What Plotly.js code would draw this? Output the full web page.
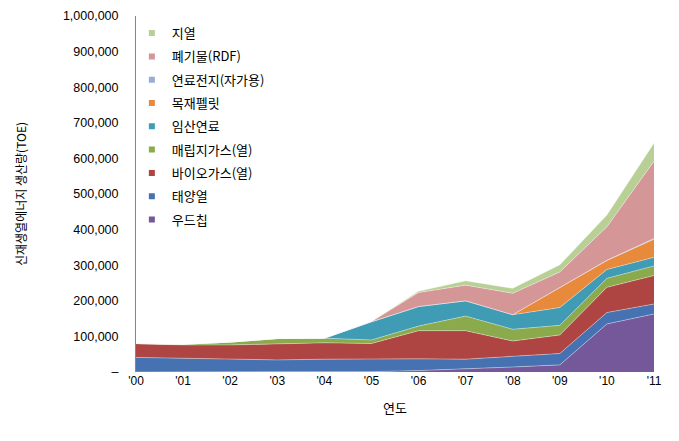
<!DOCTYPE html>
<html>
<head>
<meta charset="utf-8">
<script src="https://cdn.plot.ly/plotly-3.0.1.min.js"></script>
<style>
  html, body { margin: 0; padding: 0; background: #fff; }
  #chart { width: 679px; height: 441px; }
</style>
</head>
<body>
<div id="chart"></div>
<script>
// 연도 (x축)
const years = ["'00", "'01", "'02", "'03", "'04", "'05", "'06", "'07", "'08", "'09", "'10", "'11"];

// 열원별 생산량 (TOE), 그림에서 읽은 값
const woodChip   = [0, 0, 0, 0, 0, 1000, 4000, 8000, 14000, 20000, 135000, 163000];
const solarHeat  = [41000, 38000, 36000, 34000, 36000, 36000, 33000, 28000, 29000, 32000, 32000, 28000];
const biogas     = [39000, 38000, 40000, 46000, 46000, 43000, 79000, 80000, 44000, 52000, 71000, 80000];
const landfill   = [0, 2000, 8000, 14000, 13000, 10000, 13000, 41000, 33000, 27000, 25000, 27000];
const forestFuel = [0, 0, 0, 0, 0, 51000, 55000, 43000, 41000, 50000, 25000, 24000];
const woodPellet = [0, 0, 0, 0, 0, 0, 0, 0, 0, 57000, 25000, 51000];
const fuelCell   = [0, 0, 0, 0, 0, 0, 0, 0, 0, 0, 1000, 2000];
const waste      = [0, 0, 0, 0, 0, 1000, 39000, 44000, 60000, 43000, 94000, 217000];
const geothermal = [0, 0, 0, 0, 0, 0, 4000, 12000, 14000, 20000, 33000, 51000];

const yTickVals = [0, 100000, 200000, 300000, 400000, 500000, 600000, 700000, 800000, 900000, 1000000];
const yTickText = ['–', '100,000', '200,000', '300,000', '400,000', '500,000', '600,000', '700,000', '800,000', '900,000', '1,000,000'];

// 아래에서 위로 쌓는 순서
const series = [
    { name: '우드칩', values: woodChip, color: '#74589a' },
    { name: '태양열', values: solarHeat, color: '#4672b1' },
    { name: '바이오가스(열)', values: biogas, color: '#ae4543' },
    { name: '매립지가스(열)', values: landfill, color: '#8baa4b' },
    { name: '임산연료', values: forestFuel, color: '#3f9cb4' },
    { name: '목재펠릿', values: woodPellet, color: '#e88a3c' },
    { name: '연료전지(자가용)', values: fuelCell, color: '#97aed3' },
    { name: '폐기물(RDF)', values: waste, color: '#d49696' },
    { name: '지열', values: geothermal, color: '#b8d095' }
];

const traces = series.map(s => ({
    x: years,
    y: s.values,
    type: 'scatter',
    mode: 'lines',
    stackgroup: 'heat',
    fillcolor: s.color,
    line: { color: 'rgba(255,255,255,0.45)', width: 0.8 },
    showlegend: false,
    name: s.name
}));

// 범례는 작은 네모 표식으로 (위에서 아래로 지열 → 우드칩)
const legendTraces = series.slice().reverse().map(s => ({
    x: [null],
    y: [null],
    type: 'scatter',
    mode: 'markers',
    marker: { symbol: 'square', size: 6, color: s.color },
    name: s.name,
    legendgroup: s.name,
    showlegend: true
}));

const layout = {
    width: 679,
    height: 441,
    margin: { l: 136, r: 25, t: 16, b: 69 },
    paper_bgcolor: '#fff',
    plot_bgcolor: '#fff',
    font: { family: '"Noto Sans CJK KR", "Liberation Sans", sans-serif', size: 12, color: '#000' },
    showlegend: true,
    legend: {
        x: -0.008,
        xanchor: 'left',
        y: 0.994,
        yanchor: 'top',
        traceorder: 'grouped',
        tracegroupgap: 3.4,
        itemwidth: 30,
        font: { size: 13 },
        bgcolor: 'rgba(0,0,0,0)'
    },
    xaxis: {
        type: 'category',
        range: [0, 11],
        showgrid: false,
        zeroline: false,
        showline: false,
        ticks: '',
        tickfont: { family: '"Liberation Sans", sans-serif', size: 12 },
        title: { text: '연도', font: { size: 13 }, standoff: 16 }
    },
    yaxis: {
        range: [0, 1000000],
        tickvals: yTickVals,
        ticktext: yTickText,
        showgrid: false,
        zeroline: false,
        showline: true,
        linecolor: '#868686',
        linewidth: 1,
        ticks: '',
        ticklabelstandoff: 14,
        tickfont: { family: '"Liberation Sans", sans-serif', size: 12.5 },
        title: { text: '신재생열에너지 생산량(TOE)', font: { size: 12 }, standoff: 33 }
    }
};

Plotly.newPlot('chart', traces.concat(legendTraces), layout, { displayModeBar: false, staticPlot: true });
</script>
</body>
</html>
